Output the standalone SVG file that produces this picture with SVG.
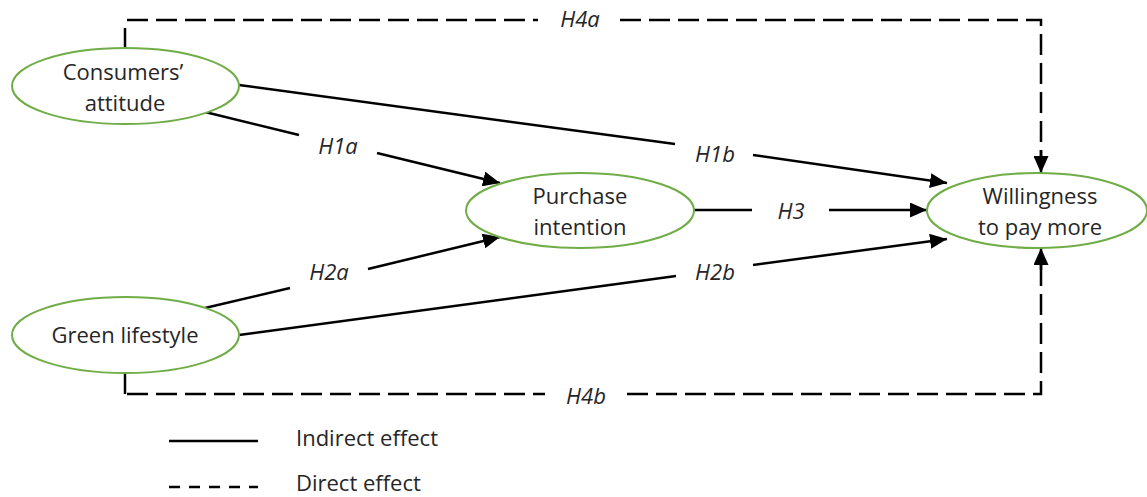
<svg xmlns="http://www.w3.org/2000/svg" width="1147" height="497" viewBox="0 0 1147 497">
<style>
.node{fill:#fff;stroke:#70ad47;stroke-width:2}
.t{font-family:"Open Sans","Liberation Sans",sans-serif;font-size:22px;fill:#262626;text-anchor:middle}
.lbl{font-family:"Open Sans","Liberation Sans",sans-serif;font-size:22px;font-style:italic;fill:#262626;text-anchor:middle}
.leg{font-family:"Open Sans","Liberation Sans",sans-serif;font-size:22px;fill:#262626}
.s{fill:none;stroke:#000;stroke-width:2.5}
.d{fill:none;stroke:#000;stroke-width:2.5;stroke-dasharray:21 8}
.a{marker-end:url(#arr)}
</style>
<defs>
<marker id="arr" viewBox="0 0 17 15" refX="17" refY="7.5" markerWidth="17" markerHeight="15" markerUnits="userSpaceOnUse" orient="auto">
<path d="M0,0 L17,7.5 L0,15 z" fill="#000"/>
</marker>
</defs>
<g id="connectors">
<path class="s" d="M125,48 V28"/>
<path class="d" d="M127,20 H538"/>
<path class="d" d="M620,20 H1041 V157"/>
<path class="s a" d="M1041,150 V173"/>
<path class="s" d="M125,373 V394"/>
<path class="d" d="M127,394 H545"/>
<path class="d" d="M627,394 H1041 V264"/>
<path class="s a" d="M1041,270 V248"/>
<path class="s" d="M205,112 L299,135"/>
<path class="s a" d="M377,153 L500,183"/>
<path class="s" d="M205,308 L290,288"/>
<path class="s a" d="M368,269 L500,237"/>
<path class="s" d="M239,85 L675,144"/>
<path class="s a" d="M753,155 L947,183"/>
<path class="s" d="M239,335 L676,276"/>
<path class="s a" d="M753,265 L947,239"/>
<path class="s" d="M694,210 H752"/>
<path class="s a" d="M829,210 H927"/>
<text class="lbl" x="580" y="27">H4a</text>
<text class="lbl" x="586" y="404">H4b</text>
<text class="lbl" x="338" y="154">H1a</text>
<text class="lbl" x="329" y="280">H2a</text>
<text class="lbl" x="715" y="162">H1b</text>
<text class="lbl" x="715" y="280">H2b</text>
<text class="lbl" x="791" y="219">H3</text>
</g>
<g id="n-consumers">
<ellipse class="node" cx="125.5" cy="86" rx="113.5" ry="38"/>
<text class="t" x="123" y="80">Consumers’</text>
<text class="t" x="125" y="111">attitude</text>
</g>
<g id="n-green">
<ellipse class="node" cx="125.5" cy="335" rx="113.5" ry="38"/>
<text class="t" x="125" y="343">Green lifestyle</text>
</g>
<g id="n-purchase">
<ellipse class="node" cx="580" cy="210.5" rx="114" ry="37.5"/>
<text class="t" x="580" y="204">Purchase</text>
<text class="t" x="580" y="235">intention</text>
</g>
<g id="n-wtp">
<ellipse class="node" cx="1037" cy="210.5" rx="110" ry="37.5"/>
<text class="t" x="1040" y="204">Willingness</text>
<text class="t" x="1040" y="235">to pay more</text>
</g>
<g id="legend">
<path class="s" d="M169,441 H258"/>
<path fill="none" stroke="#000" stroke-width="2.5" stroke-dasharray="11 9" d="M169,487 H258"/>
<text class="leg" x="296" y="446">Indirect effect</text>
<text class="leg" x="296" y="491">Direct effect</text>
</g>
</svg>
